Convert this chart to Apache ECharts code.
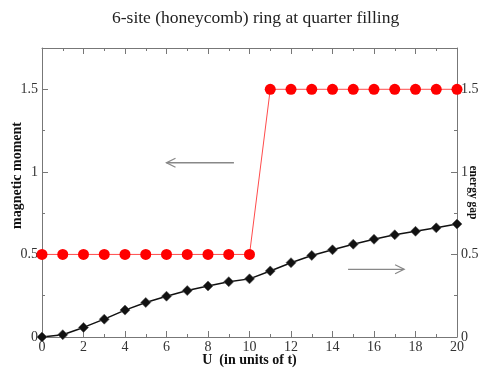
<!DOCTYPE html>
<html>
<head>
<meta charset="utf-8">
<script src="https://cdn.jsdelivr.net/npm/echarts@6/dist/echarts.min.js"></script>
<style>
  html, body { margin: 0; padding: 0; background: #fff; }
  #chart { width: 480px; height: 370px; }
</style>
</head>
<body>
<div id="chart"></div>
<script>
// U values (in units of t)
const uValues = [0, 1, 2, 3, 4, 5, 6, 7, 8, 9, 10, 11, 12, 13, 14, 15, 16, 17, 18, 19, 20]
// magnetic moment, left axis
const magMoment = [0.5, 0.5, 0.5, 0.5, 0.5, 0.5, 0.5, 0.5, 0.5, 0.5, 0.5,
  1.5, 1.5, 1.5, 1.5, 1.5, 1.5, 1.5, 1.5, 1.5, 1.5]
// energy gap, right axis
const energyGap = [0, 0.014, 0.058, 0.108, 0.163, 0.209, 0.247, 0.281, 0.309, 0.335, 0.352,
  0.4, 0.45, 0.494, 0.528, 0.562, 0.592, 0.619, 0.64, 0.661, 0.684]
// arrows: [fromU, toU, y] -- which axis each curve belongs to
const arrowLeft = [9.25, 6.0, 1.055]
const arrowRight = [14.75, 17.45, 0.41]

const serif = '"Liberation Serif", "DejaVu Serif", serif'
const axisGray = '#777'

const chart = echarts.init(document.getElementById('chart'))

const tickStyle = {
  axisTick: { show: true, inside: true, length: 6, lineStyle: { color: axisGray } },
  minorTick: { show: true, splitNumber: 2, length: 3, lineStyle: { color: axisGray } },
}

const yAxisBase = Object.assign({
  type: 'value',
  min: 0,
  max: 1.75,
  interval: 0.5,
  axisLine: { show: true, onZero: false, lineStyle: { color: axisGray } },
  splitLine: { show: false },
  axisLabel: { fontFamily: serif, fontSize: 14, color: '#333', showMaxLabel: false, margin: 4 },
  nameLocation: 'middle',
  nameMoveOverlap: false,
  nameTextStyle: { fontFamily: serif, fontWeight: 'bold', fontSize: 12, color: '#111' },
}, tickStyle)

const renderArrow = (params, api) => {
  const p1 = api.coord([api.value(0), api.value(2)])
  const p2 = api.coord([api.value(1), api.value(2)])
  const dir = p2[0] > p1[0] ? 1 : -1
  const style = { stroke: '#888', lineWidth: 1.3, fill: null }
  return {
    type: 'group',
    children: [
      { type: 'line', shape: { x1: p1[0], y1: p1[1], x2: p2[0], y2: p2[1] }, style },
      {
        type: 'polyline',
        shape: { points: [[p2[0] - dir * 9, p2[1] - 4.5], [p2[0], p2[1]], [p2[0] - dir * 9, p2[1] + 4.5]] },
        style,
      },
    ],
  }
}

chart.setOption({
  animation: false,
  title: {
    text: '6-site (honeycomb) ring at quarter filling',
    left: 107,
    top: 4,
    textStyle: { fontFamily: serif, fontWeight: 'normal', fontSize: 17.5, color: '#222' },
  },
  grid: { left: 42, right: 23, top: 48, bottom: 33, containLabel: false, outerBoundsMode: 'none' },
  xAxis: [
    Object.assign({
      type: 'value',
      min: 0,
      max: 20,
      interval: 2,
      name: 'U  (in units of t)',
      nameLocation: 'middle',
      nameMoveOverlap: false,
      nameGap: 16,
      nameTextStyle: { fontFamily: serif, fontWeight: 'bold', fontSize: 14, color: '#111' },
      axisLine: { show: true, onZero: false, lineStyle: { color: axisGray } },
      splitLine: { show: false },
      axisLabel: { fontFamily: serif, fontSize: 14, color: '#333', margin: 3 },
    }, tickStyle),
    Object.assign({
      type: 'value',
      position: 'top',
      min: 0,
      max: 20,
      interval: 2,
      axisLine: { show: true, onZero: false, lineStyle: { color: axisGray } },
      splitLine: { show: false },
      axisLabel: { show: false },
    }, tickStyle),
  ],
  yAxis: [
    Object.assign({}, yAxisBase, {
      position: 'left',
      name: 'magnetic moment',
      nameGap: 18,
      nameTextStyle: Object.assign({}, yAxisBase.nameTextStyle, { fontSize: 14, padding: [0, 0, 0, 34] }),
    }),
    Object.assign({}, yAxisBase, {
      position: 'right',
      name: 'energy gap',
      nameGap: 10,
      nameRotate: -90,
      nameTextStyle: Object.assign({}, yAxisBase.nameTextStyle, { fontSize: 11.5 }),
    }),
  ],
  series: [
    {
      name: 'magnetic moment',
      type: 'line',
      yAxisIndex: 0,
      data: uValues.map((u, i) => [u, magMoment[i]]),
      symbol: 'circle',
      symbolSize: 11,
      lineStyle: { color: '#ff4b4b', width: 1 },
      itemStyle: { color: '#ff0000' },
      z: 3,
    },
    {
      name: 'energy gap',
      type: 'line',
      yAxisIndex: 1,
      data: uValues.map((u, i) => [u, energyGap[i]]),
      symbol: 'diamond',
      symbolSize: 10,
      lineStyle: { color: '#111', width: 1.5 },
      itemStyle: { color: '#111', borderColor: '#555', borderWidth: 0.6 },
      z: 4,
    },
    {
      type: 'custom',
      yAxisIndex: 0,
      renderItem: renderArrow,
      data: [arrowLeft],
      silent: true,
    },
    {
      type: 'custom',
      yAxisIndex: 1,
      renderItem: renderArrow,
      data: [arrowRight],
      silent: true,
    },
  ],
})
</script>
</body>
</html>
